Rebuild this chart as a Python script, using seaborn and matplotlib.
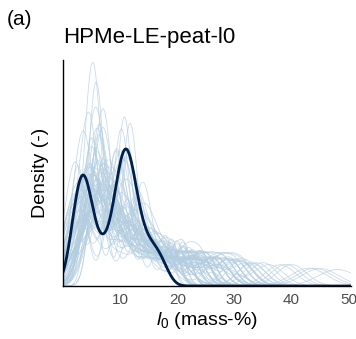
import matplotlib
matplotlib.use("Agg")
import matplotlib.pyplot as plt
import seaborn as sns
import pandas as pd

# ---------------- data ----------------
observed = [1.8, 2.0, 2.4, 2.8, 3.1, 3.4, 3.6, 3.8, 4.0, 4.3, 4.7, 5.2,
            6.3, 7.0,
            8.2, 8.8, 9.3, 9.7, 10.0, 10.3, 10.5, 10.7, 10.9, 11.1, 11.3,
            11.5, 11.8, 12.1, 12.4, 12.8, 13.3, 13.9, 14.8, 15.6, 16.5, 17.6]

replicates = [
    [2.0, 2.6, 3.1, 6.5, 7.0, 7.4, 10.8, 11.5, 14.0, 18.0],
    [4.2, 4.8, 5.3, 5.7, 9.5, 10.1, 12.0, 12.6, 16.5, 21.0],
    [1.0, 1.5, 5.5, 6.0, 6.4, 6.9, 10.0, 11.0, 14.0, 19.0],
    [3.0, 3.5, 8.0, 8.5, 9.0, 13.0, 13.6, 17.0, 24.0, 30.0],
    [5.0, 5.4, 5.9, 6.3, 6.8, 9.5, 11.0, 14.5, 19.0, 25.0],
    [0.5, 2.0, 2.5, 3.0, 8.5, 9.0, 9.6, 10.2, 15.0, 19.0],
    [4.0, 4.5, 5.0, 10.0, 10.5, 11.0, 13.0, 13.5, 17.0, 22.0],
    [6.0, 6.5, 7.0, 7.4, 11.5, 12.0, 16.0, 20.5, 27.0, 32.0],
    [1.5, 2.0, 5.0, 5.5, 6.0, 12.5, 13.0, 13.5, 18.0, 24.0],
    [3.5, 4.0, 4.4, 7.5, 8.0, 11.0, 14.0, 14.5, 20.0, 38.0],
    [2.5, 3.0, 3.5, 4.0, 4.5, 8.0, 10.0, 13.0, 16.0, 22.0],
    [5.5, 6.0, 6.5, 7.0, 9.5, 10.0, 10.5, 12.5, 17.0, 21.0],
    [1.0, 4.5, 5.0, 5.5, 8.5, 9.0, 9.5, 15.0, 21.0, 27.0],
    [2.0, 2.5, 7.0, 7.5, 8.0, 8.5, 13.0, 16.0, 19.0, 26.0],
    [4.4, 5.0, 5.6, 6.2, 6.8, 8.5, 10.5, 13.0, 16.0, 20.0],
    [3.0, 6.5, 7.0, 7.5, 11.0, 11.5, 12.0, 12.5, 16.0, 20.0],
    [1.5, 5.5, 6.0, 9.5, 10.0, 14.0, 14.5, 20.0, 28.0, 43.0],
    [4.0, 4.5, 5.0, 5.5, 8.0, 8.5, 12.0, 14.5, 18.0, 22.5],
    [2.5, 6.0, 6.5, 7.0, 7.5, 10.0, 10.5, 16.0, 22.0, 29.0],
    [3.5, 4.0, 8.5, 9.0, 9.5, 10.0, 12.5, 15.5, 18.0, 24.0],
    [0.8, 1.5, 2.2, 5.5, 6.0, 6.5, 10.0, 13.0, 18.0, 33.0],
    [4.8, 5.3, 5.8, 6.3, 6.8, 11.0, 11.5, 12.0, 15.0, 18.0],
    [2.0, 4.0, 4.5, 5.0, 5.5, 9.0, 13.5, 14.0, 20.0, 26.0],
    [3.0, 3.5, 6.5, 10.0, 10.5, 11.0, 11.5, 15.0, 21.0, 24.0],
    [6.0, 6.5, 7.0, 9.0, 13.5, 14.0, 14.5, 18.0, 27.0, 31.0],
    [1.0, 3.5, 4.0, 4.5, 5.0, 5.5, 9.0, 12.0, 15.0, 19.0],
    [4.5, 5.0, 7.5, 8.0, 8.5, 11.5, 14.5, 18.0, 23.0, 29.0],
    [2.5, 3.0, 6.0, 6.5, 7.0, 7.5, 12.0, 16.5, 21.0, 44.0],
    [5.5, 6.0, 6.5, 9.5, 10.0, 10.5, 11.0, 15.0, 18.0, 21.0],
    [1.5, 2.0, 2.5, 7.5, 8.0, 12.5, 13.0, 13.5, 17.0, 23.0],
    [3.5, 4.0, 4.5, 5.0, 5.5, 10.5, 11.0, 16.0, 20.0, 31.0],
    [2.0, 7.0, 7.5, 8.0, 8.5, 9.0, 14.0, 19.0, 24.0, 28.0],
    [4.0, 5.5, 6.0, 6.5, 7.0, 11.5, 12.0, 16.0, 21.0, 25.0],
    [1.0, 1.6, 4.5, 5.0, 5.5, 10.0, 15.0, 15.5, 20.0, 24.0],
    [5.0, 5.5, 6.0, 8.5, 9.0, 9.5, 10.0, 13.0, 17.0, 40.0],
    [3.0, 3.5, 4.0, 11.0, 11.5, 12.0, 16.0, 21.0, 27.0, 31.0],
    [2.5, 6.0, 6.5, 7.0, 7.5, 8.0, 12.5, 13.0, 16.0, 21.0],
    [4.5, 5.0, 5.5, 6.0, 10.0, 10.5, 14.5, 18.0, 22.0, 27.0],
    [1.5, 4.0, 4.5, 8.0, 8.5, 9.0, 12.0, 16.0, 20.0, 34.0],
    [3.5, 5.5, 6.0, 6.5, 10.0, 10.5, 11.0, 11.5, 15.0, 19.0],
    [0.5, 2.5, 3.0, 3.5, 7.0, 7.5, 13.5, 14.0, 18.0, 23.0],
    [5.5, 6.0, 6.5, 7.0, 7.5, 12.0, 16.0, 21.0, 26.0, 48.0],
    [4.1, 4.6, 5.0, 5.4, 5.8, 6.3, 10.0, 12.0, 15.0, 19.0],
    [4.0, 4.5, 8.5, 9.0, 9.5, 13.5, 14.0, 14.5, 19.0, 24.0],
    [3.0, 3.5, 4.0, 4.5, 7.5, 11.5, 12.0, 16.0, 22.0, 27.0],
    [1.0, 6.0, 6.5, 7.0, 7.5, 10.5, 15.5, 16.0, 20.0, 33.0],
    [4.5, 5.0, 5.5, 9.0, 9.5, 10.0, 12.5, 16.5, 21.0, 25.0],
    [2.5, 3.0, 5.5, 6.0, 6.5, 11.0, 11.5, 12.0, 18.0, 30.0],
    [5.0, 5.5, 6.0, 6.5, 10.0, 14.5, 15.0, 19.0, 24.0, 28.0],
    [1.5, 4.0, 4.5, 5.0, 7.5, 8.0, 8.5, 13.0, 17.0, 22.0],
    [3.5, 6.5, 7.0, 7.5, 8.0, 12.5, 13.0, 18.5, 27.0, 36.0],
    [2.0, 2.5, 3.0, 9.0, 9.5, 10.0, 10.5, 14.5, 19.0, 23.0],
    [6.0, 6.5, 7.0, 7.5, 11.0, 11.5, 15.5, 20.0, 25.0, 31.0],
    [4.0, 4.5, 5.0, 5.5, 6.0, 9.0, 13.0, 17.0, 22.0, 45.0],
    [1.0, 3.0, 3.5, 7.5, 8.0, 8.5, 9.0, 14.5, 21.0, 26.0],
    [5.0, 5.5, 9.5, 10.0, 10.5, 14.0, 14.5, 18.0, 23.0, 29.0],
    [2.5, 5.5, 6.0, 6.5, 7.0, 11.0, 12.0, 15.5, 20.0, 24.0],
    [3.5, 4.0, 4.5, 5.0, 8.5, 9.0, 14.0, 18.5, 25.0, 32.0],
    [1.5, 5.0, 5.5, 6.0, 10.0, 10.5, 11.0, 12.5, 16.5, 21.0],
    [4.5, 5.0, 7.0, 7.5, 8.0, 12.0, 12.5, 17.0, 22.0, 28.0],
    [2.0, 2.5, 3.0, 3.5, 8.5, 9.0, 13.0, 18.0, 23.0, 27.0],
    [5.5, 6.0, 6.5, 9.5, 13.0, 13.5, 14.0, 18.0, 24.0, 39.0],
    [3.0, 6.0, 6.5, 7.0, 7.5, 8.0, 11.5, 16.0, 19.0, 23.0],
    [4.0, 4.5, 5.0, 10.5, 11.0, 11.5, 15.0, 20.0, 26.0, 30.0],
    [1.0, 4.0, 4.5, 5.0, 5.5, 9.0, 9.5, 14.0, 18.0, 25.0],
    [3.5, 4.0, 8.0, 8.5, 9.0, 9.5, 13.0, 17.5, 21.0, 35.0],
    [2.5, 5.0, 5.5, 6.0, 6.5, 12.0, 12.5, 16.5, 22.0, 27.0],
    [5.0, 5.5, 6.0, 8.5, 10.0, 10.5, 15.5, 19.5, 24.0, 31.0],
    [1.5, 2.0, 6.0, 6.5, 7.0, 11.0, 14.0, 14.5, 20.0, 26.0],
    [4.0, 4.5, 5.0, 5.5, 7.5, 11.5, 14.0, 17.5, 23.0, 29.0],
]

x_ticks = [10, 20, 30, 40, 50]
title = "HPMe-LE-peat-l0"
panel = "(a)"
y_label = "Density (-)"
x_label = r"$\mathit{l}_{\mathit{0}}$ (mass-%)"

# ---------------- style ----------------
sns.set_style("white")
plt.rcParams["font.family"] = ["Liberation Sans", "DejaVu Sans"]
plt.rcParams["text.color"] = "black"
plt.rcParams["axes.labelcolor"] = "black"
plt.rcParams["mathtext.fontset"] = "custom"
plt.rcParams["mathtext.rm"] = "Liberation Sans"
plt.rcParams["mathtext.it"] = "Liberation Sans:italic"

light = "#b3cde0"
dark = "#011f4b"

rep_df = pd.DataFrame({
    "value": [v for r in replicates for v in r],
    "rep": [i for i, r in enumerate(replicates) for _ in r],
})

fig = plt.figure(figsize=(3.56, 3.39), dpi=100)
ax = fig.add_axes([63 / 356, 1 - 286 / 339, 288 / 356, 226 / 339])

sns.kdeplot(data=rep_df, x="value", hue="rep", palette=[light] * len(replicates),
            common_norm=False, common_grid=True, clip=(0, 50.4), gridsize=400,
            bw_adjust=0.4, linewidth=0.6, alpha=0.7, legend=False, ax=ax)
sns.kdeplot(x=observed, bw_adjust=0.6, cut=40, clip=(0, 50.4), gridsize=500,
            color=dark, linewidth=2.0, ax=ax)

ymax = max(line.get_ydata().max() for line in ax.lines)
ax.set_xlim(0, 50.4)
ax.set_ylim(0, ymax * 1.01)
ax.set_xticks(x_ticks)
ax.set_yticks([])
ax.tick_params(axis="x", length=3, width=0.8, color="#333333",
               labelsize=11, labelcolor="#4d4d4d", pad=2)
ax.set_xlabel(x_label, fontsize=14, labelpad=2)
ax.set_ylabel(y_label, fontsize=14, labelpad=10)
for s in ["top", "right"]:
    ax.spines[s].set_visible(False)
for s in ["left", "bottom"]:
    ax.spines[s].set_color("black")
    ax.spines[s].set_linewidth(1.0)

fig.text(63 / 356, 1 - 43 / 339, title, fontsize=16, va="baseline", ha="left")
fig.text(7 / 356, 1 - 25 / 339, panel, fontsize=15, va="baseline", ha="left")

fig.savefig("out.png", dpi=100)
